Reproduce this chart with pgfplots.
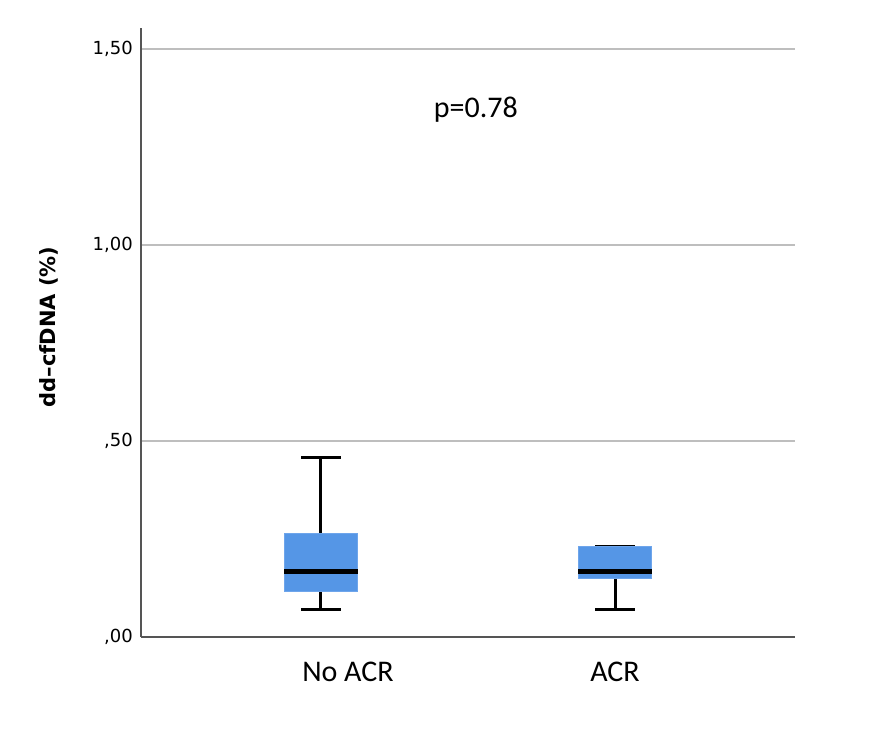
\documentclass[border=0pt]{standalone}
\usepackage{fontspec}
\setmainfont{Carlito}
\newfontfamily\dejavu{DejaVu Sans}
\usepackage{pgfplots}
\pgfplotsset{compat=1.18}
\usepgfplotslibrary{statistics}
\definecolor{boxblue}{RGB}{85,150,230}
\definecolor{boxedge}{RGB}{110,165,235}
\definecolor{axisgray}{RGB}{85,85,85}
\definecolor{gridgray}{RGB}{190,190,190}
\begin{document}
\begin{tikzpicture}
\useasboundingbox (0,0) rectangle (878pt,730pt);
\begin{axis}[
    at={(141pt,93pt)}, anchor=south west,
    scale only axis,
    width=654pt, height=609pt,
    xmin=0.388, xmax=2.612,
    ymin=0, ymax=1.5536,
    axis lines=left,
    axis line style={-, axisgray, line width=1.4pt},
    xtick={1,2},
    xticklabels={\hspace*{54pt}No ACR, ACR},
    ytick={0,0.5,1,1.5},
    yticklabels={{,}00,{,}50,1{,}00,1{,}50},
    major tick length=0pt,
    ymajorgrids=true,
    grid style={gridgray, line width=1.3pt},
    xticklabel style={font=\fontsize{30}{34}\selectfont, inner sep=0pt, yshift=-25pt},
    yticklabel style={font=\dejavu\fontsize{18}{20}\selectfont, inner sep=0pt, xshift=-8pt},
    ylabel={dd–cfDNA (\%)},
    ylabel style={at={(axis description cs:-0.1407,0.509)}, anchor=center,
        font=\dejavu\bfseries\fontsize{21}{24}\selectfont},
    boxplot/draw direction=y,
    boxplot/box extend=0.25,
    boxplot/whisker extend=0.133,
    boxplot/every box/.style={fill=boxblue, draw=boxedge, line width=1pt},
    boxplot/every median/.style={black, line width=5pt},
    clip=false,
]
\addplot[black, line width=3pt, boxplot prepared={
    draw position=1,
    lower whisker=0.069, lower quartile=0.117, median=0.168,
    upper quartile=0.263, upper whisker=0.459}] coordinates {};
\addplot[black, line width=3pt, boxplot prepared={
    draw position=2,
    lower whisker=0.069, lower quartile=0.148, median=0.168,
    upper quartile=0.230, upper whisker=0.232}] coordinates {};
\node[font=\fontsize{30}{34}\selectfont, anchor=center] at (axis cs:1.527,1.344) {p=0.78};
\end{axis}
\end{tikzpicture}
\end{document}
